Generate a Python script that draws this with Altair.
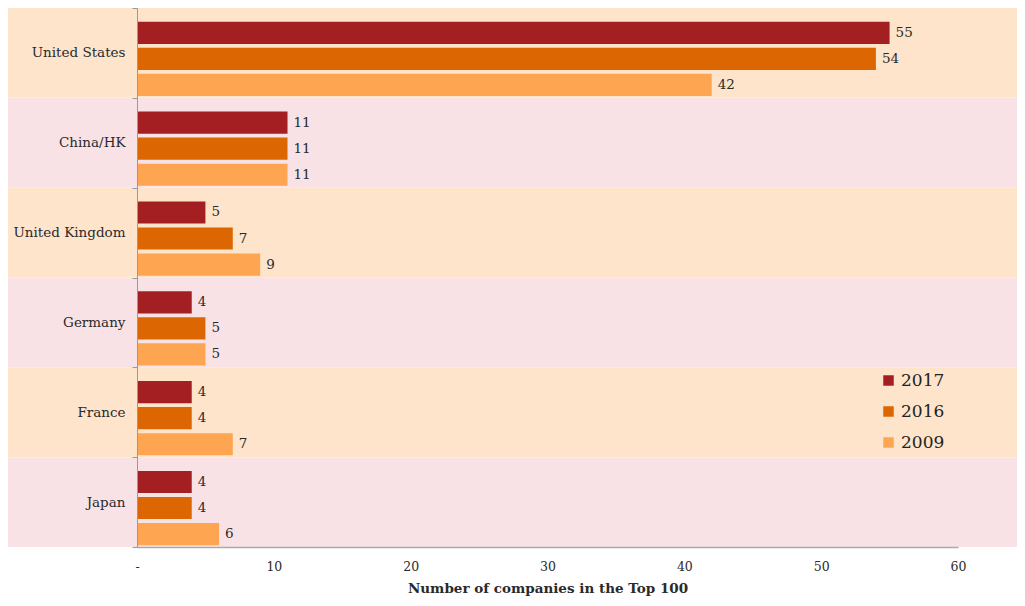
import altair as alt
import pandas as pd

countries = ["United States", "China/HK", "United Kingdom", "Germany", "France", "Japan"]
years = ["2017", "2016", "2009"]
v2017 = [55, 11, 5, 4, 4, 4]
v2016 = [54, 11, 7, 5, 4, 4]
v2009 = [42, 11, 9, 5, 7, 6]
shades = ["a", "b", "a", "b", "a", "b"]
shade_colors = ["#FDE4CB", "#F9E2E6"]
year_colors = ["#A31F22", "#DB6602", "#FDA551"]
x_ticks = [0, 10, 20, 30, 40, 50, 60]

rows = []
for i, c in enumerate(countries):
    for y, vals in zip(years, [v2017, v2016, v2009]):
        rows.append({"country": c, "year": y, "value": vals[i]})
df = pd.DataFrame(rows)
bands = pd.DataFrame({"country": countries, "shade": shades})

W, H = 821, 539
FONT = "DejaVu Serif"
TXT = "#2a2a2a"

yscale = alt.Scale(domain=countries, paddingInner=0, paddingOuter=0)
yaxis = alt.Axis(title=None, zindex=1, tickBand="extent", tickSize=5, tickColor="#999999",
                 domainColor="#999999", labelPadding=7, labelFont=FONT, labelFontSize=13.5,
                 labelColor=TXT)
Y = alt.Y("country:N", scale=yscale, axis=yaxis, sort=countries)

xscale = alt.Scale(domain=[0, 60], nice=False)
xaxis = alt.Axis(values=x_ticks, labelExpr="datum.value == 0 ? '-' : datum.label",
                 ticks=False, grid=False, domainColor="#AAAAAA", domainWidth=1.5,
                 labelFlush=False, labelOverlap=False,
                 labelPadding=13, labelFont=FONT, labelFontSize=12.5, labelColor=TXT,
                 title="Number of companies in the Top 100", titleFont=FONT,
                 titleFontSize=13.5, titleFontWeight="bold", titleColor=TXT,
                 titlePadding=9, zindex=1)

bg = alt.Chart(bands).mark_rect(clip=False).encode(
    x=alt.value(-129), x2=alt.value(W + 59),
    y=Y,
    color=alt.Color("shade:N", scale=alt.Scale(domain=["a", "b"], range=shade_colors), legend=None),
)

yoff = alt.YOffset("year:N", sort=years,
                   scale=alt.Scale(domain=years, paddingInner=0.15, paddingOuter=0.3, align=0.88))

bars = alt.Chart(df).mark_bar().encode(
    x=alt.X("value:Q", scale=xscale, axis=xaxis),
    y=Y,
    yOffset=yoff,
    fill=alt.Fill("year:N", sort=years, scale=alt.Scale(domain=years, range=year_colors),
                  legend=alt.Legend(title=None, orient="none", legendX=743, legendY=364,
                                    symbolType="square", symbolSize=110, symbolStrokeWidth=0,
                                    labelFont=FONT, labelFontSize=17, labelColor="#222222",
                                    rowPadding=13, labelOffset=4)),
)

labels = alt.Chart(df).mark_text(align="left", baseline="middle", dx=6, font=FONT,
                                 fontSize=13.5, color=TXT).encode(
    x=alt.X("value:Q", scale=xscale, axis=xaxis),
    y=Y,
    yOffset=yoff,
    text="value:Q",
)

chart = alt.layer(bg, bars, labels).resolve_scale(color="independent").properties(
    width=W, height=H,
    padding={"left": 129, "top": 0, "right": 59, "bottom": 55},
    autosize="none",
).configure_view(stroke=None)

chart.save("out.html", embed_options={"renderer": "svg", "actions": False})
